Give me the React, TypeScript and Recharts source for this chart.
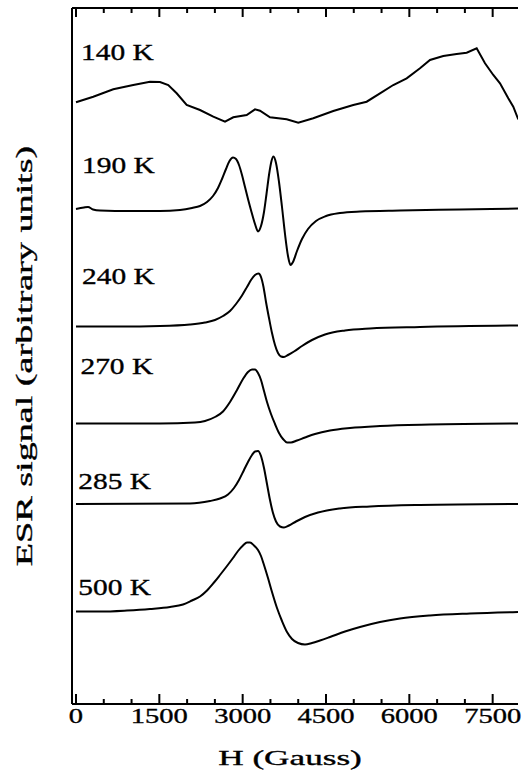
import React from 'react';
import { LineChart, Line, XAxis, YAxis, ReferenceDot } from 'recharts';

// Field axis ticks (Gauss)
const fieldTicks = [0, 500, 1000, 1500, 2000, 2500, 3000, 3500, 4000, 4500, 5000, 5500, 6000, 6500, 7000, 7500];
const majorStep = 1500;

// Temperatures (curve labels)
const temps = ['140 K', '190 K', '240 K', '270 K', '285 K', '500 K'];

// 140 K
const field140 = [0, 311, 671, 1031, 1332, 1512, 1661, 1812, 1992, 2232, 2471, 2682, 2831, 3072, 3222, 3312, 3492, 3792, 4001, 4271, 4631, 4991, 5232, 5472, 5711, 5952, 6192, 6372, 6611, 6852, 7032, 7212, 7362, 7511, 7632, 7781, 7871, 7961];
const signal140 = [60.17, 60.73, 61.47, 61.9, 62.23, 62.2, 61.9, 61.07, 59.9, 59.4, 58.73, 58.23, 58.67, 58.9, 59.47, 59.33, 58.67, 58.47, 58.13, 58.57, 59.3, 59.9, 60.23, 61.07, 61.9, 62.57, 63.57, 64.4, 64.8, 65.0, 65.13, 65.57, 64.07, 62.9, 62.07, 60.57, 59.73, 58.47];

// 190 K
const field190 = [0, 144, 216, 306, 432, 972, 1512, 1872, 2088, 2232, 2358, 2466, 2556, 2628, 2700, 2763, 2826, 2880, 2934, 2988, 3042, 3096, 3159, 3222, 3276, 3330, 3384, 3429, 3474, 3519, 3555, 3600, 3654, 3708, 3762, 3816, 3861, 3906, 3978, 4068, 4176, 4320, 4500, 4752, 5112, 5832, 6912, 7956];
const signal190 = [49.5, 49.65, 49.7, 49.45, 49.35, 49.3, 49.3, 49.4, 49.6, 49.8, 50.2, 50.8, 51.6, 52.5, 53.5, 54.3, 54.65, 54.5, 53.9, 52.9, 51.7, 50.5, 49.2, 48.0, 47.25, 47.8, 49.2, 51.0, 52.9, 54.3, 54.75, 54.1, 52.2, 49.7, 47.0, 44.8, 43.9, 44.2, 45.3, 46.5, 47.5, 48.3, 48.8, 49.1, 49.25, 49.35, 49.45, 49.55];

// 240 K
const field240 = [0, 792, 1512, 2052, 2322, 2502, 2646, 2772, 2880, 2988, 3078, 3150, 3222, 3285, 3330, 3375, 3420, 3474, 3528, 3582, 3636, 3690, 3744, 3816, 3924, 4068, 4248, 4482, 4842, 5292, 6192, 7956];
const signal240 = [37.75, 37.75, 37.8, 37.95, 38.15, 38.4, 38.8, 39.3, 40.0, 40.85, 41.7, 42.4, 42.9, 43.05, 42.7, 41.7, 40.2, 38.6, 37.1, 35.9, 35.1, 34.75, 34.7, 34.9, 35.25, 35.8, 36.4, 36.95, 37.35, 37.55, 37.7, 37.85];

// 270 K
const field270 = [0, 1512, 2142, 2322, 2502, 2646, 2772, 2898, 3006, 3096, 3168, 3222, 3276, 3330, 3384, 3438, 3510, 3582, 3654, 3726, 3798, 3870, 3978, 4122, 4302, 4572, 4932, 5472, 6372, 7956];
const signal270 = [28.05, 28.05, 28.15, 28.3, 28.7, 29.25, 30.2, 31.4, 32.5, 33.2, 33.45, 33.45, 33.1, 32.4, 31.3, 30.2, 29.0, 28.0, 27.1, 26.5, 26.15, 26.15, 26.35, 26.65, 27.0, 27.35, 27.6, 27.8, 27.95, 28.05];

// 285 K
const field285 = [0, 2052, 2412, 2592, 2736, 2844, 2934, 3024, 3096, 3168, 3222, 3276, 3330, 3384, 3438, 3492, 3546, 3600, 3672, 3744, 3834, 3960, 4122, 4356, 4752, 5292, 6192, 7956];
const signal285 = [20.0, 20.05, 20.3, 20.55, 20.95, 21.6, 22.4, 23.4, 24.2, 24.9, 25.25, 25.3, 24.8, 23.6, 22.0, 20.4, 19.1, 18.25, 17.75, 17.65, 17.85, 18.25, 18.7, 19.15, 19.55, 19.75, 19.9, 20.0];

// 500 K
const field500 = [0, 432, 918, 1332, 1692, 1926, 2088, 2232, 2358, 2484, 2592, 2718, 2826, 2916, 3006, 3078, 3132, 3204, 3276, 3330, 3384, 3456, 3528, 3618, 3708, 3798, 3888, 3996, 4122, 4248, 4392, 4572, 4842, 5112, 5472, 5832, 6372, 7092, 7956];
const signal500 = [9.25, 9.25, 9.35, 9.5, 9.7, 9.95, 10.35, 10.75, 11.35, 12.15, 12.9, 13.8, 14.6, 15.3, 15.85, 16.15, 16.15, 15.85, 15.4, 14.8, 13.9, 12.6, 11.2, 9.6, 8.3, 7.2, 6.5, 6.1, 5.95, 6.1, 6.35, 6.7, 7.25, 7.7, 8.2, 8.55, 8.85, 9.05, 9.2];

const build = (h: number[], s: number[]) => h.map((v, i) => ({ h: v, s: s[i] }));

const curves = [
  { name: temps[0], data: build(field140, signal140), type: 'linear' },
  { name: temps[1], data: build(field190, signal190), type: 'monotone' },
  { name: temps[2], data: build(field240, signal240), type: 'monotone' },
  { name: temps[3], data: build(field270, signal270), type: 'monotone' },
  { name: temps[4], data: build(field285, signal285), type: 'monotone' },
  { name: temps[5], data: build(field500, signal500), type: 'monotone' },
];

// label anchors (field, signal) for the temperature labels
const labelAnchors: [number, number][] = [
  [90, 64.4],
  [110, 53.1],
  [110, 42.0],
  [80, 33.0],
  [40, 21.5],
  [40, 10.9],
];

const FONT = '"Liberation Serif", "Times New Roman", serif';
const Y_MAX = 69.6;

const BottomTick = (props: any) => {
  const { x, y, payload } = props;
  const major = payload.value % majorStep === 0;
  return (
    <g>
      <line x1={x} x2={x} y1={y} y2={y - (major ? 10 : 5)} stroke="#000" strokeWidth={2} />
      {major && (
        <text
          transform={`translate(${x},${y + 19}) scale(1.36,1)`}
          textAnchor="middle"
          fontFamily={FONT}
          fontSize={21}
          fill="#000"
          stroke="#000"
          strokeWidth={0.35}
        >
          {payload.value}
        </text>
      )}
    </g>
  );
};

// inward tick on the top frame, placed by the chart's scales at (value, Y_MAX)
const makeTopTick = (major: boolean) => (p: any) => (
  <path
    d={`M${p.cx},${p.cy}L${p.cx},${p.cy + (major ? 9 : 5)}`}
    stroke="#000"
    strokeWidth={2}
    fill="none"
  />
);

const makeTempLabel = (text: string) => (props: any) => {
  const vb = props.viewBox || {};
  const x = vb.cx ?? vb.x;
  const y = vb.cy ?? vb.y;
  return (
    <text
      transform={`translate(${x},${y}) scale(1.28,1)`}
      textAnchor="start"
      fontFamily={FONT}
      fontSize={23}
      fill="#000"
      stroke="#000"
      strokeWidth={0.35}
    >
      {text}
    </text>
  );
};

const XTitle = (props: any) => {
  const vb = props.viewBox;
  return (
    <text
      transform={`translate(${vb.x + 218},${vb.y + 61}) scale(1.6,1)`}
      textAnchor="middle"
      fontFamily={FONT}
      fontSize={22}
      fill="#000"
      stroke="#000"
      strokeWidth={0.35}
    >
      H (Gauss)
    </text>
  );
};

const YTitle = (props: any) => {
  const vb = props.viewBox;
  return (
    <text
      transform={`translate(${vb.x + vb.width - 40},${vb.y + vb.height / 2}) rotate(-90) scale(1.59,1)`}
      textAnchor="middle"
      fontFamily={FONT}
      fontSize={24}
      fill="#000"
      stroke="#000"
      strokeWidth={0.35}
    >
      ESR signal (arbitrary units)
    </text>
  );
};

export default function App() {
  return (
    <div style={{ position: 'absolute', left: 0, top: 0, width: 522, height: 781, background: '#fff' }}>
      <LineChart width={522} height={781} margin={{ top: 7, right: 4, left: 71, bottom: 0 }}>
        <XAxis
          xAxisId="b"
          dataKey="h"
          type="number"
          domain={[-72, 7956]}
          allowDataOverflow
          ticks={fieldTicks}
          interval={0}
          height={77}
          tickSize={0}
          tickMargin={0}
          tickLine={false}
          tick={<BottomTick />}
          axisLine={{ stroke: '#000', strokeWidth: 2 }}
          label={<XTitle />}
        />
        <XAxis
          xAxisId="t"
          orientation="top"
          dataKey="h"
          type="number"
          domain={[-72, 7956]}
          allowDataOverflow
          height={1}
          tick={false}
          tickLine={false}
          axisLine={{ stroke: '#000', strokeWidth: 2 }}
        />
        <YAxis
          yAxisId="y"
          type="number"
          domain={[0, Y_MAX]}
          allowDataOverflow
          width={1}
          tick={false}
          tickLine={false}
          axisLine={{ stroke: '#000', strokeWidth: 2 }}
          label={<YTitle />}
        />
        {curves.map((c) => (
          <Line
            key={c.name}
            xAxisId="b"
            yAxisId="y"
            data={c.data}
            dataKey="s"
            type={c.type as any}
            stroke="#000"
            strokeWidth={2}
            dot={false}
            activeDot={false}
            isAnimationActive={false}
          />
        ))}
        {fieldTicks.map((v) => (
          <ReferenceDot
            key={'tt' + v}
            xAxisId="b"
            yAxisId="y"
            x={v}
            y={Y_MAX}
            r={1}
            ifOverflow="visible"
            shape={makeTopTick(v % majorStep === 0)}
          />
        ))}
        {curves.map((c, i) => (
          <ReferenceDot
            key={'lbl' + c.name}
            xAxisId="b"
            yAxisId="y"
            x={labelAnchors[i][0]}
            y={labelAnchors[i][1]}
            r={0}
            fill="none"
            stroke="none"
            label={makeTempLabel(c.name)}
          />
        ))}
      </LineChart>
    </div>
  );
}
